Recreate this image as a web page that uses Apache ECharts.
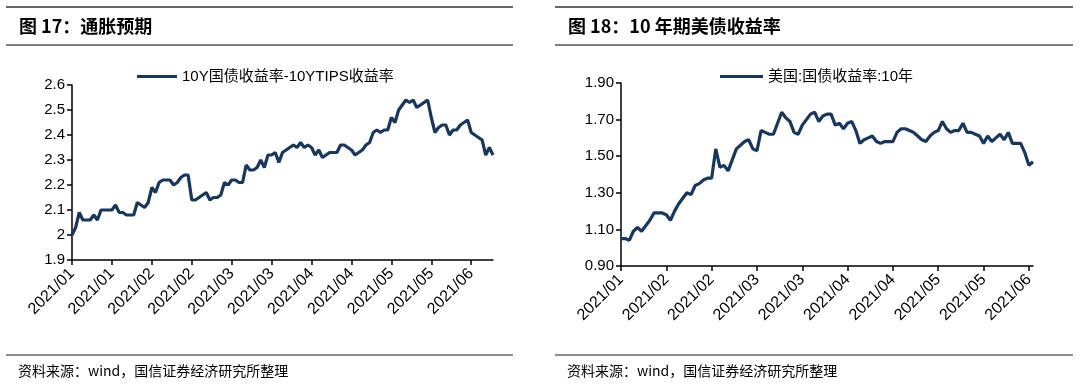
<!DOCTYPE html>
<html>
<head>
<meta charset="utf-8">
<script src="https://cdn.jsdelivr.net/npm/echarts@6/dist/echarts.min.js"></script>
<style>
html,body{margin:0;padding:0;background:#fff;}
#c{width:1080px;height:389px;}
</style>
</head>
<body>
<div id="c"></div>
<script>
// ---- data ----
const leftTitle = '图 17：通胀预期';
const rightTitle = '图 18：10 年期美债收益率';
const sourceNote = '资料来源：wind，国信证券经济研究所整理';
const leftSeriesName = '10Y国债收益率-10YTIPS收益率';
const rightSeriesName = '美国:国债收益率:10年';

// 10Y breakeven (daily, weekdays from 2021/01/04)
const breakeven = [
  2.00,2.03,2.09,2.06,2.06,2.06,2.08,2.06,2.10,2.10,
  2.10,2.10,2.12,2.09,2.09,2.08,2.08,2.08,2.13,2.12,
  2.11,2.13,2.19,2.17,2.21,2.22,2.22,2.22,2.20,2.21,
  2.23,2.24,2.24,2.14,2.14,2.15,2.16,2.17,2.14,2.15,
  2.15,2.16,2.21,2.20,2.22,2.22,2.21,2.21,2.28,2.26,
  2.26,2.27,2.30,2.27,2.32,2.32,2.33,2.29,2.33,2.34,
  2.35,2.36,2.35,2.37,2.35,2.36,2.35,2.32,2.34,2.31,
  2.32,2.33,2.33,2.33,2.36,2.36,2.35,2.34,2.32,2.33,
  2.34,2.36,2.37,2.41,2.42,2.41,2.42,2.42,2.47,2.45,
  2.50,2.52,2.54,2.53,2.54,2.51,2.52,2.53,2.54,2.47,
  2.41,2.43,2.44,2.44,2.40,2.42,2.42,2.44,2.45,2.46,
  2.41,2.40,2.39,2.38,2.32,2.35,2.32
];
// US 10Y Treasury yield (daily, weekdays from 2021/01/25)
const ust10y = [
  1.05,1.05,1.04,1.09,1.11,1.09,1.12,1.15,1.19,1.19,
  1.19,1.18,1.15,1.20,1.24,1.27,1.30,1.29,1.34,1.35,
  1.37,1.38,1.38,1.54,1.44,1.45,1.42,1.48,1.54,1.56,
  1.58,1.59,1.54,1.53,1.64,1.63,1.62,1.62,1.68,1.74,
  1.71,1.69,1.63,1.62,1.67,1.70,1.73,1.74,1.69,1.72,
  1.73,1.73,1.67,1.68,1.65,1.68,1.69,1.64,1.57,1.59,
  1.60,1.61,1.58,1.57,1.58,1.58,1.58,1.63,1.65,1.65,
  1.64,1.63,1.61,1.59,1.58,1.61,1.63,1.64,1.69,1.65,
  1.63,1.64,1.64,1.68,1.63,1.63,1.62,1.61,1.57,1.61,
  1.58,1.60,1.62,1.59,1.63,1.57,1.57,1.57,1.52,1.45,
  1.47
];
const leftStart = '2021-01-04';
const rightStart = '2021-01-25';

function weekdays(start, n) {
  const out = [];
  const d = new Date(start + 'T00:00:00Z');
  while (out.length < n) {
    const w = d.getUTCDay();
    if (w !== 0 && w !== 6) {
      out.push(d.getUTCFullYear() + '/' + String(d.getUTCMonth() + 1).padStart(2, '0') + '/' + String(d.getUTCDate()).padStart(2, '0'));
    }
    d.setUTCDate(d.getUTCDate() + 1);
  }
  return out;
}
const leftDates = weekdays(leftStart, breakeven.length);
const rightDates = weekdays(rightStart, ust10y.length);

// ---- styles ----
const LAT = 'Liberation Sans, Arial, Noto Sans CJK SC, sans-serif';
const CJK = 'Noto Sans CJK SC, sans-serif';
const LINE_COLOR = '#17375E';

function xAxisCfg(gi, data) {
  return {
    type: 'category', gridIndex: gi, data: data, boundaryGap: false,
    axisLine: { lineStyle: { color: '#000', width: 1.5 } },
    axisTick: { show: true, interval: 10, length: 5, lineStyle: { color: '#000', width: 1.5 } },
    axisLabel: {
      interval: 10, rotate: 45, margin: 11, color: '#000', fontSize: 16, fontFamily: LAT,
      formatter: v => v.slice(0, 7)
    },
    splitLine: { show: false }
  };
}
function yAxisCfg(gi, min, max, interval, digits) {
  return {
    type: 'value', gridIndex: gi, min: min, max: max, interval: interval,
    axisLine: { show: true, lineStyle: { color: '#000', width: 1.5 } },
    axisTick: { show: true, length: 5, lineStyle: { color: '#000', width: 1.5 } },
    axisLabel: {
      margin: 7, color: '#000', fontSize: 15, fontFamily: LAT,
      formatter: v => digits === 1 ? String(parseFloat(v.toFixed(1))) : v.toFixed(2)
    },
    splitLine: { show: false }
  };
}

const chart = echarts.init(document.getElementById('c'), null, { renderer: 'canvas' });
chart.setOption({
  backgroundColor: '#fff',
  animation: false,
  title: [
    { text: leftTitle, left: 19, top: 17, padding: 0, textStyle: { fontSize: 18, fontWeight: 'bold', color: '#000', fontFamily: CJK } },
    { text: rightTitle, left: 568, top: 17, padding: 0, textStyle: { fontSize: 18, fontWeight: 'bold', color: '#000', fontFamily: CJK } },
    { text: sourceNote, left: 18, top: 364, padding: 0, textStyle: { fontSize: 14, fontWeight: 'normal', color: '#000', fontFamily: CJK } },
    { text: sourceNote, left: 567, top: 364, padding: 0, textStyle: { fontSize: 14, fontWeight: 'normal', color: '#000', fontFamily: CJK } }
  ],
  graphic: [
    { type: 'line', shape: { x1: 6, y1: 7, x2: 513, y2: 7 }, style: { stroke: '#333', lineWidth: 1.5 } },
    { type: 'line', shape: { x1: 6, y1: 45, x2: 513, y2: 45 }, style: { stroke: '#555', lineWidth: 1.5 } },
    { type: 'line', shape: { x1: 6, y1: 355, x2: 513, y2: 355 }, style: { stroke: '#666', lineWidth: 1.5 } },
    { type: 'line', shape: { x1: 555, y1: 7, x2: 1073, y2: 7 }, style: { stroke: '#333', lineWidth: 1.5 } },
    { type: 'line', shape: { x1: 555, y1: 45, x2: 1073, y2: 45 }, style: { stroke: '#555', lineWidth: 1.5 } },
    { type: 'line', shape: { x1: 555, y1: 355, x2: 1073, y2: 355 }, style: { stroke: '#666', lineWidth: 1.5 } }
  ],
  legend: [
    { data: [leftSeriesName], left: 137, top: 69, padding: 0, icon: 'rect', itemWidth: 40, itemHeight: 3,
      textStyle: { fontSize: 15, color: '#000', fontFamily: LAT } },
    { data: [rightSeriesName], left: 720, top: 69, padding: 0, icon: 'rect', itemWidth: 43, itemHeight: 3,
      textStyle: { fontSize: 15, color: '#000', fontFamily: LAT } }
  ],
  grid: [
    { left: 72, top: 85, width: 421, height: 175 },
    { left: 621, top: 83, width: 412, height: 183 }
  ],
  xAxis: [xAxisCfg(0, leftDates), xAxisCfg(1, rightDates)],
  yAxis: [yAxisCfg(0, 1.9, 2.6, 0.1, 1), yAxisCfg(1, 0.9, 1.9, 0.2, 2)],
  series: [
    { name: leftSeriesName, type: 'line', xAxisIndex: 0, yAxisIndex: 0, data: breakeven,
      symbol: 'none', lineStyle: { color: LINE_COLOR, width: 3.2 }, itemStyle: { color: LINE_COLOR } },
    { name: rightSeriesName, type: 'line', xAxisIndex: 1, yAxisIndex: 1, data: ust10y,
      symbol: 'none', lineStyle: { color: LINE_COLOR, width: 3.2 }, itemStyle: { color: LINE_COLOR } }
  ]
});
</script>
</body>
</html>
